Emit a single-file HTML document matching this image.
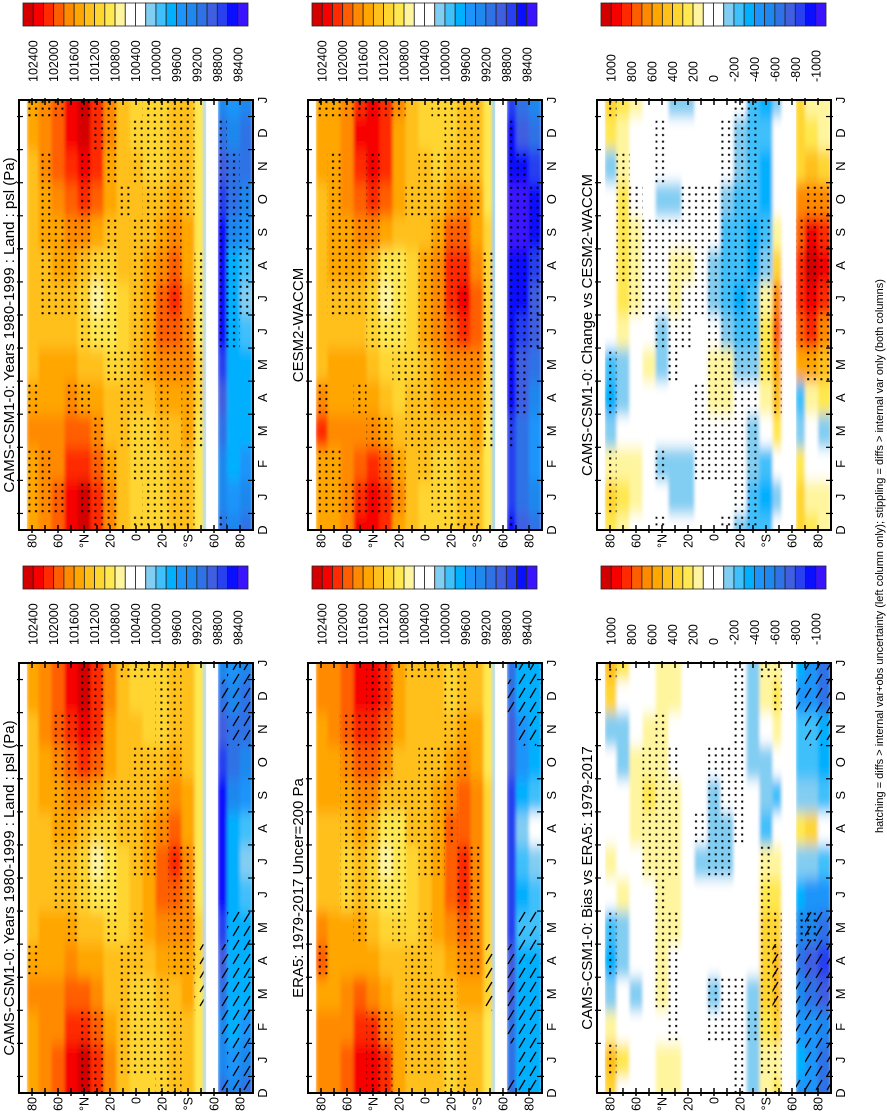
<!DOCTYPE html>
<html><head><meta charset="utf-8">
<style>
html,body{margin:0;padding:0;background:#fff;}
svg{display:block;font-family:"Liberation Sans",Arial,sans-serif;}
</style></head>
<body>
<svg id="fig" width="887" height="1112" viewBox="0 0 887 1112" xmlns="http://www.w3.org/2000/svg">
<defs>
<pattern id="dots" width="6.6" height="6.6" patternUnits="userSpaceOnUse">
<rect x="2" y="2" width="2" height="2" fill="#000"/>
</pattern>
<pattern id="hatch" width="11" height="14" patternUnits="userSpaceOnUse">
<line x1="2" y1="12" x2="8" y2="2" stroke="#000" stroke-width="1.3"/>
</pattern>
<filter id="soft" x="-5%" y="-5%" width="110%" height="110%"><feGaussianBlur stdDeviation="1.6 7"/></filter>
</defs>
</svg>
<script>
// latitude bands (deg): top / bottom edges
const bandTop = [84,75,65,55,45,35,25,15,5,-5,-15,-25,-35,-45,-52,-63,-70,-80];
const bandBot = [75,65,55,45,35,25,15,5,-5,-15,-25,-35,-45,-52,-54,-70,-80,-90];
const monthLabels = ["D","J","F","M","A","M","J","J","A","S","O","N","D","J"];
const latTickVals = [80,60,40,20,0,-20,-40,-60,-80];
const latTickLabels = ["80","60","°N","20","0","20","°S","60","80"];
const pslCbLabels = ["102400","102000","101600","101200","100800","100400","100000","99600","99200","98800","98400"];
const diffCbLabels = ["1000","800","600","400","200","0","-200","-400","-600","-800","-1000"];

// CAMS-CSM1-0 psl (hPa), rows = bands, columns = Jan..Dec
const camsPsl = [
[1015,1015,1017,1015,1013,1013,1013,1013,1013,1013,1013,1015],
[1017,1017,1017,1015,1015,1013,1013,1013,1015,1015,1017,1017],
[1019,1017,1017,1015,1015,1013,1013,1015,1015,1017,1019,1019],
[1023,1021,1019,1017,1015,1013,1013,1015,1017,1019,1021,1023],
[1025,1021,1019,1015,1013,1011,1011,1013,1017,1021,1023,1025],
[1021,1019,1017,1015,1013,1009,1007,1011,1015,1019,1021,1021],
[1017,1015,1013,1013,1011,1009,1009,1011,1013,1015,1015,1017],
[1013,1013,1013,1013,1011,1011,1011,1013,1013,1013,1013,1013],
[1011,1011,1011,1013,1013,1013,1013,1013,1013,1013,1013,1011],
[1011,1011,1011,1013,1015,1015,1015,1015,1013,1013,1011,1011],
[1011,1011,1013,1015,1017,1019,1019,1017,1015,1013,1011,1011],
[1013,1013,1013,1015,1017,1019,1021,1019,1017,1015,1013,1013],
[1013,1013,1015,1015,1017,1017,1017,1015,1015,1013,1013,1013],
[1009,1009,1009,1011,1011,1009,1009,1009,1009,1009,1009,1009],
[1001,1001,1001,1001,1001,1001,1001,1001,1001,1001,1001,1001],
[993,993,991,989,987,985,985,985,985,987,989,991],
[995,997,997,997,997,997,997,997,993,991,991,993],
[993,995,997,997,997,999,1001,999,995,993,991,991]];
const cesmPsl = [
[1015,1015,1021,1017,1013,1013,1013,1013,1013,1013,1015,1015],
[1015,1015,1017,1015,1015,1013,1013,1015,1015,1015,1015,1015],
[1017,1017,1017,1015,1015,1013,1013,1015,1015,1017,1017,1017],
[1021,1019,1017,1015,1015,1013,1013,1015,1017,1019,1021,1023],
[1023,1021,1017,1015,1013,1011,1011,1013,1017,1021,1023,1023],
[1021,1019,1015,1013,1011,1009,1007,1009,1015,1019,1021,1021],
[1017,1015,1013,1011,1011,1009,1009,1009,1013,1015,1015,1015],
[1013,1013,1013,1013,1011,1011,1011,1011,1013,1013,1013,1013],
[1011,1013,1013,1013,1013,1015,1015,1015,1013,1013,1013,1011],
[1011,1011,1013,1015,1015,1017,1017,1017,1015,1013,1011,1011],
[1011,1011,1013,1015,1017,1019,1021,1021,1019,1015,1013,1011],
[1013,1013,1013,1015,1017,1021,1023,1021,1019,1017,1013,1013],
[1013,1013,1015,1015,1017,1019,1019,1017,1015,1015,1013,1013],
[1009,1009,1009,1011,1011,1011,1011,1011,1011,1009,1009,1009],
[999,999,999,999,999,999,999,999,999,999,999,999],
[987,987,987,985,985,985,985,985,983,983,985,985],
[991,991,991,989,989,987,985,985,983,983,985,989],
[993,995,995,993,991,989,989,987,985,985,987,991]];
const era5Psl = [
[1017,1017,1015,1019,1017,1013,1013,1013,1015,1015,1015,1017],
[1017,1017,1015,1015,1015,1013,1013,1013,1015,1015,1017,1017],
[1019,1017,1017,1015,1015,1011,1011,1013,1015,1017,1019,1019],
[1023,1021,1019,1015,1015,1013,1013,1015,1017,1019,1021,1023],
[1023,1021,1017,1015,1013,1011,1011,1013,1017,1019,1021,1023],
[1021,1017,1015,1013,1011,1009,1007,1009,1013,1017,1019,1021],
[1015,1015,1013,1013,1011,1009,1009,1009,1013,1013,1015,1015],
[1013,1013,1013,1013,1011,1011,1011,1013,1013,1013,1013,1013],
[1013,1013,1013,1013,1013,1013,1013,1013,1013,1013,1013,1013],
[1013,1013,1013,1013,1015,1015,1015,1015,1015,1013,1013,1013],
[1011,1011,1013,1015,1017,1019,1019,1019,1017,1015,1013,1011],
[1013,1013,1015,1017,1019,1021,1021,1019,1019,1017,1015,1013],
[1013,1013,1015,1017,1017,1017,1017,1017,1017,1015,1015,1013],
[1009,1009,1011,1011,1011,1011,1011,1011,1011,1009,1009,1009],
[1001,1001,1001,1001,1001,1001,1001,1001,1001,1001,1001,1001],
[991,991,989,989,987,987,987,987,987,989,989,991],
[997,997,997,997,999,997,999,1001,997,995,995,997],
[997,997,997,997,999,999,1001,1003,999,997,997,997]];
// differences (Pa)
const changeDiff = [
[350,150,-150,-350,-250,0,0,0,0,0,-150,250],
[250,150,0,-150,-150,150,250,250,250,250,150,150],
[150,150,0,0,0,0,150,150,150,0,0,0],
[0,0,0,0,150,0,0,0,0,0,0,0],
[0,-150,0,0,-150,-150,0,0,0,-150,0,0],
[-150,-150,0,0,0,0,150,150,0,-150,0,0],
[-150,-150,0,0,0,0,0,150,0,0,0,0],
[0,0,0,0,0,0,0,0,0,0,0,0],
[0,0,0,150,150,0,-150,-150,0,0,0,0],
[0,0,0,150,150,-150,-250,-250,-250,-150,0,0],
[0,0,0,0,-150,-250,-350,-250,-250,-250,-150,-150],
[-250,-150,-150,0,-150,-250,-250,-350,-350,-250,-250,-250],
[-350,-250,0,150,250,250,150,-150,-250,-350,-350,-250],
[-150,0,250,450,550,750,650,350,150,0,0,0],
[0,0,0,0,0,0,0,0,0,0,0,0],
[350,250,-150,-250,550,750,850,850,750,650,350,350],
[150,0,0,150,550,850,950,1050,950,650,450,250],
[150,0,-150,250,450,650,850,950,850,650,350,150]];
const biasDiff = [
[450,150,-150,-350,-250,0,150,0,0,0,-150,350],
[250,0,0,-150,-150,150,0,0,0,-150,-150,0],
[0,0,-150,0,0,0,0,150,150,150,0,0],
[0,0,0,0,0,0,150,150,250,150,150,0],
[150,0,150,150,150,150,150,150,150,150,150,150],
[150,0,0,0,150,150,150,150,150,0,0,150],
[0,0,0,0,0,0,0,0,0,0,0,0],
[0,0,0,0,0,0,-150,0,0,0,0,0],
[0,0,-150,0,0,0,-150,-150,-150,0,0,0],
[0,0,0,0,0,0,-150,-150,0,0,0,0],
[0,0,0,0,0,0,0,0,0,0,0,0],
[-150,-150,-150,0,0,0,0,0,0,-150,-150,-150],
[150,250,350,350,350,250,150,-250,-150,-150,0,150],
[150,350,450,450,350,250,150,0,-250,0,150,250],
[0,0,0,0,0,0,0,0,0,0,0,0],
[-350,-450,-550,-650,-550,-350,-150,250,-150,-250,-250,-450],
[-450,-450,-650,-750,-550,-450,-150,350,-150,-250,-250,-450],
[-650,-550,-750,-850,-650,-450,-250,0,-250,-350,-350,-650]];

// significance masks (Jan..Dec)
const camsStipR = ["110100000000","110000111110","100000111000","000100111000","100101111110","111001110001","110011111011","001110000100","011111111011","111011111111","111111111111","110011111111","111111000111","001111110000","000000000000","000001111111","000001111110","000000111100"];
const cesmStip = ["110100000000","110000111110","100000111000","100100111000","101001111110","111001110000","110011110000","001110000100","011111110110","111111111110","111111111111","111111111111","111110000111","001111110000","000000000000","001111111111","000111111110","000001111100"];
const changeStip = ["110110000000","000000011110","000000111100","000000111000","010001111011","000011111000","000001111100","011100111100","011111111100","011111111111","111111111111","111111111111","000011111000","000111100000","000000000000","000001111000","000011111100","000011111100"];
const era5Stip = ["000100000000","000000000000","000001111110","000011111110","110001111111","110001111111","000011111000","111100011000","111110111100","111000111100","111000011111","110111100111","000111100000","000000000000","000000000000","000000000000","000000000000","000000000000"];
const camsStipL = ["000100000000","000000000000","000001111110","000011111110","110001111111","110001111111","000011111000","111100011000","111110111100","111000111100","111000011111","110111100111","000111100000","000000000000","000000000000","000000000000","000000000000","000000000000"];
const biasStip = ["100110000000","000000000000","000000000000","000000111100","001111111110","011110111100","000000000000","000000010000","011000111100","011000111100","111000011111","010000000000","111111100000","111110000001","000000000000","000010000000","000010000000","000000000000"];
const leftHatch = ["000000000000","000000000000","000000000000","000000000000","000000000000","000000000000","000000000000","000000000000","000000000000","000000000000","000000000000","000000000000","000000000000","001100000000","000000000000","011100000001","111110000011","111110000011"];

const palette = ["#d40000","#f70000","#ff2a00","#ff5e00","#ff8a00","#ffa600","#ffc01c","#ffd530","#ffe850","#fff59e","#ffffff","#ffffff","#82cdf2","#3fc0fa","#00b0ff","#1c94fa","#1e88ee","#2f72e6","#3f5fe0","#2840f0","#0a10ff","#3a14ff"];

const NS = "http://www.w3.org/2000/svg";
const svg = document.getElementById("fig");
const W = 234, H = 430, STEP = H / 13;

function mk(tag, attrs, parent){
  const e = document.createElementNS(NS, tag);
  for (const k in attrs) e.setAttribute(k, attrs[k]);
  (parent || svg).appendChild(e);
  return e;
}
function colorIdx(kind, v){
  let i = kind === "psl" ? Math.floor((102600 - v*100)/200) : Math.floor((1100 - v)/100);
  return Math.max(0, Math.min(21, i));
}
function vtext(x, y, str, size, anchor, parent){
  const t = mk("text", {x:x, y:y, "font-size":size, "text-anchor":anchor, fill:"#000", transform:"rotate(-90 "+x+" "+y+")"}, parent);
  t.textContent = str;
  return t;
}

const panels = [
 {name:"cams-years-panel-right", px:19, py:100, data:camsPsl, kind:"psl", stip:camsStipR, hatch:null, title:"CAMS-CSM1-0: Years 1980-1999 : Land : psl (Pa)"},
 {name:"cesm2-waccm-panel", px:308, py:100, data:cesmPsl, kind:"psl", stip:cesmStip, hatch:null, title:"CESM2-WACCM"},
 {name:"change-vs-cesm2-panel", px:597, py:100, data:changeDiff, kind:"diff", stip:changeStip, hatch:null, title:"CAMS-CSM1-0: Change vs CESM2-WACCM"},
 {name:"cams-years-panel-left", px:19, py:663, data:camsPsl, kind:"psl", stip:camsStipL, hatch:leftHatch, title:"CAMS-CSM1-0: Years 1980-1999 : Land : psl (Pa)"},
 {name:"era5-panel", px:308, py:663, data:era5Psl, kind:"psl", stip:era5Stip, hatch:leftHatch, title:"ERA5: 1979-2017 Uncer=200 Pa"},
 {name:"bias-vs-era5-panel", px:597, py:663, data:biasDiff, kind:"diff", stip:biasStip, hatch:leftHatch, title:"CAMS-CSM1-0: Bias vs ERA5: 1979-2017"}
];

panels.forEach((p, pi) => {
  const g = mk("g", {});
  
  
  const latX = lat => p.px + (90 - lat) * W / 180;
  const rowY = k => p.py + H - k * STEP;   // k=0 bottom D ... 13 top J
  const cid = "clip" + pi;
  const cp = mk("clipPath", {id:cid}, g);
  mk("rect", {x:p.px, y:p.py, width:W, height:H}, cp);
  const field = mk("g", {"clip-path":"url(#"+cid+")"}, g);
  
  
  const blur = mk("g", {filter:"url(#soft)"}, field);
  const over = mk("g", {}, field);
  for (let b = 0; b < bandTop.length; b++) {
    const x1 = latX(bandTop[b]), x2 = latX(bandBot[b]);
    for (let k = -1; k <= 14; k++) {
      const m = ((k + 11) % 12 + 12) % 12;
      const v = p.data[b][m];
      const yc = rowY(k);
      const r = mk("rect", {x:x1, y:yc - STEP/2 - 0.5, width:x2 - x1, height:STEP + 1, fill:palette[colorIdx(p.kind, v)]}, blur);
      
      
      if (k >= 0 && k <= 13) {
        if (p.stip[b][m] === "1") {
          const s = mk("rect", {x:x1, y:yc - STEP/2, width:x2 - x1, height:STEP, fill:"url(#dots)"}, over);
          
          
        }
        if (p.hatch && p.hatch[b][m] === "1") {
          const h = mk("rect", {x:x1, y:yc - STEP/2, width:x2 - x1, height:STEP, fill:"url(#hatch)"}, over);
          
          
        }
      }
    }
  }
  // white polar cap / ocean gap
  mk("rect", {x:p.px, y:p.py, width:latX(84) - p.px, height:H, fill:"#fff"}, field);
  mk("rect", {x:latX(-54), y:p.py, width:latX(-63) - latX(-54), height:H, fill:"#fff"}, field);
  // frame
  const fr = mk("rect", {x:p.px, y:p.py, width:W, height:H, fill:"none", stroke:"#000", "stroke-width":2}, g);
  
  
  // lat ticks
  for (let lat = 80; lat >= -80; lat -= 10) {
    const x = latX(lat);
    mk("line", {x1:x, y1:p.py - 2, x2:x, y2:p.py + 5, stroke:"#000", "stroke-width":1.5}, g);
    mk("line", {x1:x, y1:p.py + H - 5, x2:x, y2:p.py + H + 3, stroke:"#000", "stroke-width":1.5}, g);
  }
  latTickVals.forEach((lat, i) => {
    const t = vtext(latX(lat) + 4.5, p.py + H + 4, latTickLabels[i], 12.5, "end", g);
    
    
  });
  // month ticks (boundaries) and labels
  for (let k = 0; k < 13; k++) {
    const y = rowY(k + 0.5);
    mk("line", {x1:p.px + W - 5, y1:y, x2:p.px + W + 2, y2:y, stroke:"#000", "stroke-width":1.2}, g);
    mk("line", {x1:p.px - 2, y1:y, x2:p.px + 4, y2:y, stroke:"#000", "stroke-width":1.2}, g);
  }
  monthLabels.forEach((lab, k) => {
    const t = vtext(p.px + W + 14, rowY(k), lab, 13, "middle", g);
    
    
  });
  // title
  const tt = vtext(p.px - 5, p.py + H/2 + 10, p.title, 15, "middle", g);
  
  
  // colorbar
  const cb = mk("g", {}, g);
  
  
  const cbx = p.px + 4, cby = p.py - 97, cbw = 225 / 22;
  palette.forEach((c, i) => {
    const r = mk("rect", {x:cbx + i*cbw, y:cby, width:cbw, height:23, fill:c, stroke:"#222", "stroke-width":0.8}, cb);
    
    
  });
  const labs = p.kind === "psl" ? pslCbLabels : diffCbLabels;
  labs.forEach((lab, j) => {
    const t = vtext(cbx + (2*j + 1)*cbw + 4.5, cby + 79, lab, 12.5, "start", cb);
    
    
  });
});

const fn = vtext(883, 556, "hatching = diffs > internal var+obs uncertainty (left column only); stippling = diffs > internal var only (both columns)", 11, "middle");


</script>
</body></html>
